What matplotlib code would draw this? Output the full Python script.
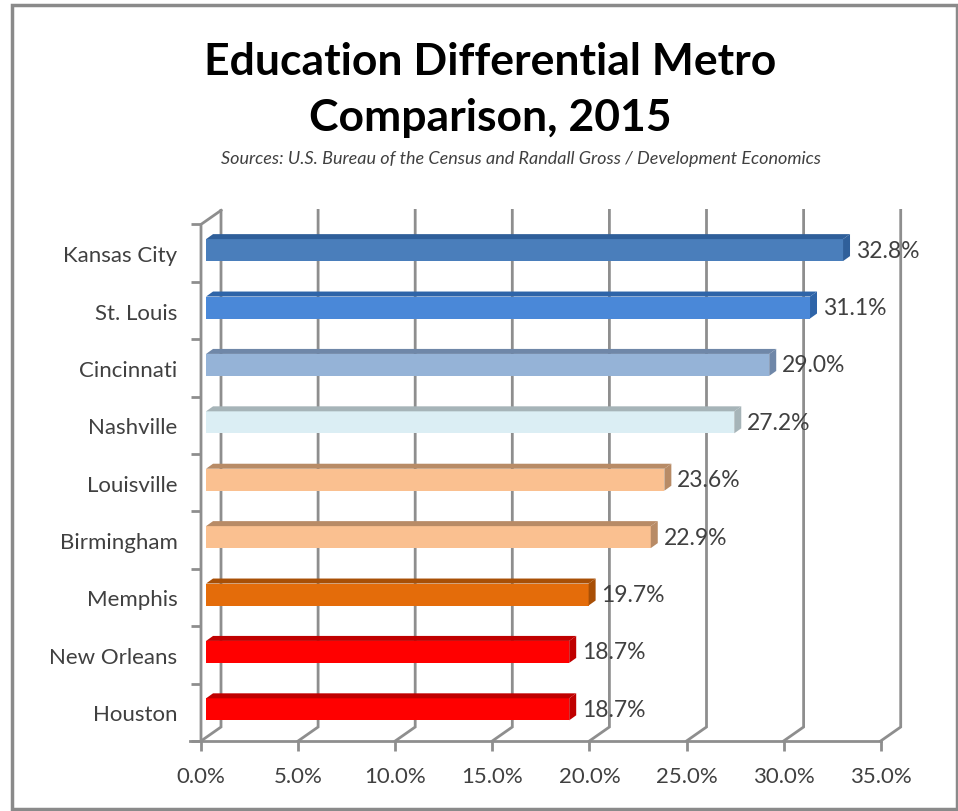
import matplotlib
matplotlib.use("Agg")
import matplotlib.pyplot as plt
from matplotlib.patches import Polygon, Rectangle

# data, bottom to top
cities = ["Houston", "New Orleans", "Memphis", "Birmingham", "Louisville",
          "Nashville", "Cincinnati", "St. Louis", "Kansas City"]
values = [18.7, 18.7, 19.7, 22.9, 23.6, 27.2, 29.0, 31.1, 32.8]
face_colors = ["#ff0000", "#ff0000", "#e46c0a", "#fac090", "#fac090",
               "#dbeef4", "#95b3d7", "#4a88d8", "#4a7ebb"]
edge_colors = ["#c00000", "#c00000", "#a84f06", "#b88b66", "#b88b66",
               "#a6b4b8", "#6f87a8", "#2e64a8", "#2f5f9a"]
xticks = [0, 5, 10, 15, 20, 25, 30, 35]
xtick_labels = ["0.0%", "5.0%", "10.0%", "15.0%", "20.0%", "25.0%", "30.0%", "35.0%"]

title = "Education Differential Metro\nComparison, 2015"
subtitle = "Sources: U.S. Bureau of the Census and Randall Gross / Development Economics"

plt.rcParams['font.family'] = ['Lato', 'DejaVu Sans']

GRID = "#8e8e8e"
TXT = "#404040"
DX, DY = 1.03, 0.244     # depth of the back wall
BX = 0.26                # bar front offset
BH = 0.383               # bar height
bdx, bdy = 0.36, 0.087   # bar depth

fig = plt.figure(figsize=(9.58, 8.12), dpi=100)
fig.patches.append(Rectangle((12 / 958, 2 / 812), 945 / 958, 804 / 812,
                             transform=fig.transFigure, fill=False,
                             edgecolor="#8a8a8a", linewidth=2.5))

ax = fig.add_axes([201 / 958, 70 / 812, 36.6 * 19.42 / 958, 9.45 * 57.4 / 812])
ax.set_xlim(0, 36.6)
ax.set_ylim(0, 9.45)
for s in ax.spines.values():
    s.set_visible(False)

# back wall gridlines + floor diagonals
for v in xticks:
    ax.plot([v, v + DX, v + DX], [0, DY, 9 + DY], color=GRID, lw=2,
            solid_joinstyle="miter", zorder=1, clip_on=False)
# front axes
ax.plot([0, 0, DX], [0, 9, 9 + DY], color=GRID, lw=2, zorder=2, clip_on=False)
ax.plot([-0.55, 35], [0, 0], color=GRID, lw=2, zorder=2, clip_on=False)

# bars
ys = [i + 0.5 + 0.052 for i in range(len(cities))]
ax.barh(ys, values, height=BH, left=BX, color=face_colors, zorder=3)
for y, v, fc, ec in zip(ys, values, face_colors, edge_colors):
    top = y + BH / 2
    bot = y - BH / 2
    x1 = BX + v
    ax.add_patch(Polygon([(BX, top), (BX + bdx, top + bdy), (x1 + bdx, top + bdy), (x1, top)],
                         closed=True, facecolor=ec, edgecolor="none", zorder=3))
    ax.add_patch(Polygon([(x1, bot), (x1, top), (x1 + bdx, top + bdy), (x1 + bdx, bot + bdy)],
                         closed=True, facecolor=ec, edgecolor="none", zorder=3))
    ax.text(x1 + 0.65, y, f"{v:.1f}%", ha="left", va="center",
            fontsize=16.5, color=TXT, zorder=4)

# ticks
ax.set_xticks(xticks)
ax.set_xticklabels(xtick_labels)
ax.tick_params(axis="x", direction="out", length=7, width=2, color=GRID,
               labelsize=16, labelcolor=TXT, pad=11)
ax.set_yticks(range(10))
ax.set_yticklabels([])
ax.set_yticks([i + 0.5 for i in range(len(cities))], minor=True)
ax.set_yticklabels(cities, minor=True)
ax.tick_params(axis="y", which="major", direction="out", length=7, width=2, color=GRID)
ax.tick_params(axis="y", which="minor", length=0, labelsize=16, labelcolor=TXT, pad=17)

fig.text(490 / 958, 1 - 90 / 812, title, ha="center", va="center",
         fontsize=32, fontweight="bold", color="black", linespacing=1.5)
fig.text(521 / 958, 1 - 159 / 812, subtitle, ha="center", va="center",
         fontsize=13, style="italic", color=TXT)

fig.savefig("out.png", dpi=100)
